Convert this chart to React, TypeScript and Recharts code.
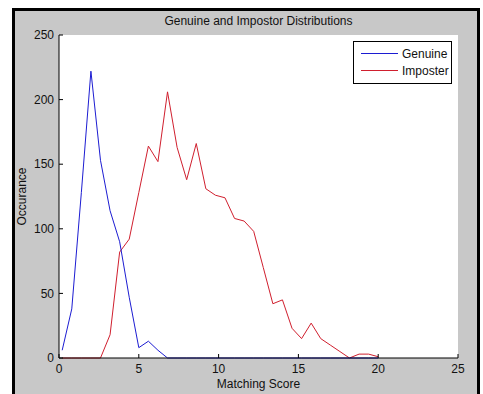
import React from "react";
import {
  LineChart,
  Line,
  XAxis,
  YAxis,
  CartesianGrid,
  Legend,
} from "recharts";

// matching score bin centres
const scores = [
  0.2, 0.8, 1.4, 2.0, 2.6, 3.2, 3.8, 4.4, 5.0, 5.6, 6.2, 6.8, 7.4, 8.0, 8.6,
  9.2, 9.8, 10.4, 11.0, 11.6, 12.2, 12.8, 13.4, 14.0, 14.6, 15.2, 15.8, 16.4,
  17.0, 17.6, 18.2, 18.8, 19.4, 20.0,
];

const genuine = [
  6, 38, 128, 222, 153, 114, 90, 47, 8, 13, 6, 0, 0, 0, 0, 0, 0, 0, 0, 0, 0, 0,
  0, 0, 0, 0, 0, 0, 0, 0, 0, 0, 0, 0,
];

const imposter = [
  0, 0, 0, 0, 0, 18, 82, 92, 128, 164, 152, 206, 163, 138, 166, 131, 126, 124,
  108, 106, 98, 70, 42, 45, 23, 15, 27, 15, 10, 5, 0, 3, 3, 1,
];

const xTicks = [0, 5, 10, 15, 20, 25];
const yTicks = [0, 50, 100, 150, 200, 250];

const data = scores.map((s, i) => ({
  score: s,
  genuine: genuine[i],
  imposter: imposter[i],
}));

const BLUE = "#1c1cd2";
const RED = "#d01f2e";
const FONT = "'Liberation Sans', Arial, sans-serif";

const tickStyle = { fontSize: 12, fill: "#111", fontFamily: FONT };

function LegendBox() {
  const rows = [
    { name: "Genuine", color: BLUE },
    { name: "Imposter", color: RED },
  ];
  return (
    <div
      style={{
        width: 97,
        height: 38,
        border: "1px solid #000",
        background: "#fff",
        fontFamily: FONT,
        fontSize: 12,
        color: "#111",
        paddingTop: 3,
        boxSizing: "content-box",
      }}
    >
      {rows.map((r) => (
        <div
          key={r.name}
          style={{ display: "flex", alignItems: "center", height: 17 }}
        >
          <span
            style={{
              display: "inline-block",
              width: 37,
              height: 0,
              borderTop: `1px solid ${r.color}`,
              marginLeft: 7,
              marginRight: 4,
            }}
          />
          <span>{r.name}</span>
        </div>
      ))}
    </div>
  );
}

export default function App() {
  return (
    <div
      style={{
        position: "absolute",
        left: 0,
        top: 0,
        width: 483,
        height: 394,
        background: "#fff",
        overflow: "hidden",
      }}
    >
      <div
        style={{
          position: "absolute",
          left: 12,
          top: 8,
          width: 462,
          height: 400,
          background: "#c8c8c8",
          borderLeft: "3px solid #000",
          borderTop: "3px solid #000",
          borderRight: "3px solid #000",
        }}
      />
      <div
        style={{
          position: "absolute",
          left: 59,
          top: 14,
          width: 399,
          textAlign: "center",
          fontFamily: FONT,
          fontSize: 12,
          color: "#111",
        }}
      >
        Genuine and Impostor Distributions
      </div>
      <div style={{ position: "absolute", left: 0, top: 0 }}>
        <LineChart
          width={483}
          height={394}
          data={data}
          margin={{ top: 35, right: 25, bottom: 0, left: 0 }}
        >
          <CartesianGrid
            fill="#fff"
            horizontal={false}
            vertical={false}
          />
          <XAxis
            xAxisId="bottom"
            dataKey="score"
            type="number"
            domain={[0, 25]}
            ticks={xTicks}
            height={36}
            tickSize={-4}
            tickMargin={10}
            stroke="#000"
            tick={tickStyle}
            interval={0}
            label={{
              value: "Matching Score",
              position: "center",
              dy: 8,
              style: { fontSize: 12, fill: "#111", fontFamily: FONT },
            }}
          />
          <XAxis
            xAxisId="top"
            orientation="top"
            dataKey="score"
            type="number"
            domain={[0, 25]}
            ticks={xTicks}
            height={0}
            tickSize={-4}
            stroke="#000"
            tickFormatter={() => ""}
            interval={0}
          />
          <YAxis
            yAxisId="left"
            type="number"
            domain={[0, 250]}
            ticks={yTicks}
            width={59}
            tickSize={-4}
            tickMargin={9}
            stroke="#000"
            tick={tickStyle}
            interval={0}
            label={{
              value: "Occurance",
              angle: -90,
              position: "center",
              dx: -8,
              style: { fontSize: 12, fill: "#111", fontFamily: FONT },
            }}
          />
          <YAxis
            yAxisId="right"
            orientation="right"
            type="number"
            domain={[0, 250]}
            ticks={yTicks}
            width={0}
            tickSize={-4}
            stroke="#000"
            tickFormatter={() => ""}
            interval={0}
          />
          <Legend
            layout="vertical"
            align="center"
            verticalAlign="middle"
            content={() => <LegendBox />}
            wrapperStyle={{ left: 353, top: 41, width: 99 }}
          />
          <Line
            xAxisId="bottom"
            yAxisId="left"
            type="linear"
            dataKey="imposter"
            stroke={RED}
            strokeWidth={1}
            dot={false}
            isAnimationActive={false}
          />
          <Line
            xAxisId="bottom"
            yAxisId="left"
            type="linear"
            dataKey="genuine"
            stroke={BLUE}
            strokeWidth={1}
            dot={false}
            isAnimationActive={false}
          />
        </LineChart>
      </div>
    </div>
  );
}
